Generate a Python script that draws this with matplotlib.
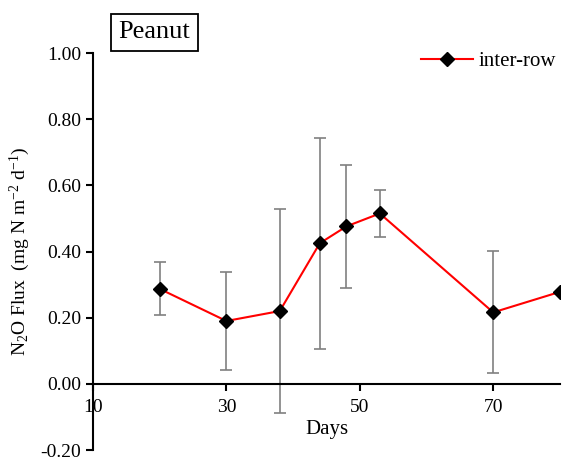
import numpy as np
import matplotlib
matplotlib.use('Agg')
import matplotlib.pyplot as plt

plt.rcParams['font.family'] = 'Liberation Serif'
plt.rcParams['mathtext.fontset'] = 'custom'
plt.rcParams['mathtext.rm'] = 'Liberation Serif'
plt.rcParams['mathtext.it'] = 'Liberation Serif:italic'
plt.rcParams['axes.unicode_minus'] = False

# data
days = [20, 30, 38, 44, 48, 53, 70, 80]
flux = [0.287, 0.190, 0.220, 0.425, 0.476, 0.515, 0.216, 0.278]
err_hi = [0.367, 0.339, 0.530, 0.744, 0.660, 0.585, 0.401, 0.278]
err_lo = [0.207, 0.041, -0.087, 0.106, 0.291, 0.444, 0.033, 0.278]

x_ticks = [10, 30, 50, 70]
y_ticks = [-0.2, 0.0, 0.2, 0.4, 0.6, 0.8, 1.0]

flux = np.array(flux)
yerr = [flux - np.array(err_lo), np.array(err_hi) - flux]

fig = plt.figure(figsize=(5.65, 4.59), dpi=100)
ax = fig.add_axes([0.1646, 0.0196, 0.8264, 0.8649])

ax.errorbar(days, flux, yerr=yerr, fmt='none', ecolor='#808080',
            elinewidth=1.2, capsize=4.5, capthick=1.2, zorder=2)
ax.plot(days, flux, color='red', linewidth=1.5, marker='D', markersize=7.5,
        markerfacecolor='black', markeredgecolor='black', label='inter-row', zorder=3)

ax.set_xlim(10, 80)
ax.set_ylim(-0.2, 1.0)
ax.set_xticks(x_ticks)
ax.set_yticks(y_ticks)
ax.set_yticklabels(['%.2f' % v for v in y_ticks])

ax.spines['top'].set_visible(False)
ax.spines['right'].set_visible(False)
ax.spines['bottom'].set_position(('data', 0))
ax.spines['left'].set_linewidth(1.5)
ax.spines['bottom'].set_linewidth(1.5)
ax.tick_params(axis='both', direction='out', length=5, width=1.5, labelsize=14)
ax.tick_params(axis='x', pad=6)

ax.set_xlabel('Days', fontsize=15, labelpad=3)
ax.set_ylabel(r'N$_2$O Flux  (mg N m$^{-2}$ d$^{-1}$)', fontsize=14, labelpad=6)

ax.legend(loc='upper right', frameon=False, fontsize=15, handlelength=2.5,
          bbox_to_anchor=(1.015, 1.03), borderaxespad=0.1, handletextpad=0.3)

fig.text(0.2735, 0.930, 'Peanut', fontsize=19, ha='center', va='center',
         bbox=dict(boxstyle='square,pad=0.28', facecolor='white', edgecolor='black', linewidth=1.3))

fig.savefig('out.png', dpi=100)
